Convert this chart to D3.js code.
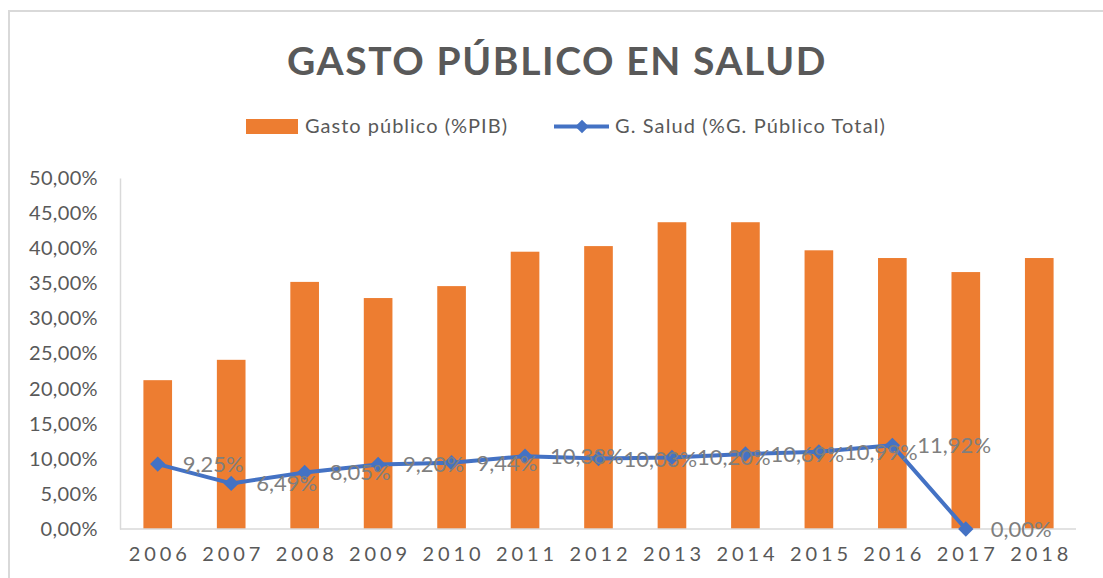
<!DOCTYPE html>
<html><head><meta charset="utf-8">
<script src="https://cdn.jsdelivr.net/npm/d3@7"></script>
<style>body{margin:0;background:#fff}svg{display:block;font-family:Lato,"Open Sans",sans-serif}</style>
</head><body><svg id="c" width="1103" height="578"></svg>
<script>
const years = ["2006","2007","2008","2009","2010","2011","2012","2013","2014","2015","2016","2017","2018"];
const gastoPublico = [0.212,0.241,0.352,0.329,0.346,0.395,0.403,0.437,0.437,0.397,0.386,0.366,0.386];
const gSaludYears = ["2006","2007","2008","2009","2010","2011","2012","2013","2014","2015","2016","2017"];
const gSalud = [0.0925,0.0649,0.0805,0.0920,0.0944,0.1038,0.1003,0.1020,0.1069,0.1099,0.1192,0.0000];
const yTicks = [0,0.05,0.10,0.15,0.20,0.25,0.30,0.35,0.40,0.45,0.50];
const title = "GASTO PÚBLICO EN SALUD";
const legendLabels = ["Gasto público (%PIB)","G. Salud (%G. Público Total)"];

const loc = d3.formatLocale({decimal:",",thousands:".",grouping:[3],currency:["","€"]});
const fmt = loc.format(".2%");
const svg = d3.select("#c");
const fitWidth = (t, w) => { t.each(function(){ const n=this.getNumberOfChars(); const l=this.getComputedTextLength(); if(n>1) d3.select(this).attr("letter-spacing",(w-l)/(n)); }); };

svg.append("rect").attr("width",1103).attr("height",578).attr("fill","#fff");
svg.append("rect").attr("x",9).attr("y",11).attr("width",1200).attr("height",700).attr("fill","none").attr("stroke","#d9d9d9").attr("stroke-width",2);

const x = d3.scaleBand().domain(years).range([121,1076]).paddingInner(0.61).paddingOuter(0.305);
const y = d3.scaleLinear().domain([0,0.5]).range([529,178]);

// title
const tt = svg.append("text").attr("x",557).attr("y",75).attr("text-anchor","middle").attr("font-weight","bold").attr("font-size",39).attr("fill","#595959").text(title);
fitWidth(tt,540);

// bars
svg.append("g").selectAll("rect").data(years).join("rect")
  .attr("x",d=>x(d)).attr("width",x.bandwidth())
  .attr("y",(d,i)=>y(gastoPublico[i])).attr("height",(d,i)=>y(0)-y(gastoPublico[i]))
  .attr("fill","#ed7d31");

// y axis
const ya = svg.append("g").attr("transform","translate(120,0)")
  .call(d3.axisLeft(y).tickValues(yTicks).tickFormat(fmt).tickSize(0).tickPadding(22));
ya.select(".domain").attr("stroke","#d9d9d9").attr("stroke-width",1.5);
ya.selectAll("text").attr("font-size",20).attr("fill","#595959").attr("font-family","Lato");
ya.selectAll("text").each(function(){ fitWidth(d3.select(this), this.getNumberOfChars()*11.5); });

// x axis
const xa = svg.append("g").attr("transform","translate(0,529)")
  .call(d3.axisBottom(x).tickSize(0).tickPadding(18));
xa.select(".domain").attr("stroke","#d9d9d9").attr("stroke-width",1.5).attr("d","M120,0H1076");
xa.selectAll("text").attr("font-size",20).attr("fill","#595959").attr("font-family","Lato");
xa.selectAll("text").each(function(){ fitWidth(d3.select(this),62); d3.select(this).attr("dx",2); });

// line
const cx = d => x(d)+x.bandwidth()/2;
const line = d3.line().x((d,i)=>cx(gSaludYears[i])).y(d=>y(d));
svg.append("path").datum(gSalud).attr("d",line).attr("fill","none").attr("stroke","#4472c4").attr("stroke-width",4).attr("stroke-linejoin","round");
const sym = d3.symbol(d3.symbolSquare,118);
svg.append("g").selectAll("path").data(gSalud).join("path")
  .attr("d",sym).attr("fill","#4472c4")
  .attr("transform",(d,i)=>`translate(${cx(gSaludYears[i])},${y(d)}) rotate(45)`);

// data labels
svg.append("g").selectAll("text").data(gSalud).join("text")
  .attr("x",(d,i)=>cx(gSaludYears[i])+25).attr("y",d=>y(d)+8)
  .attr("font-size",22).attr("fill","#7f7f7f").text(d=>fmt(d));

// legend
const lg = svg.append("g");
lg.append("rect").attr("x",246).attr("y",119).attr("width",52).attr("height",15).attr("fill","#ed7d31");
const l1 = lg.append("text").attr("x",305).attr("y",133).attr("font-size",20).attr("fill","#595959").text(legendLabels[0]);
fitWidth(l1,203);
lg.append("line").attr("x1",554).attr("x2",609).attr("y1",126.5).attr("y2",126.5).attr("stroke","#4472c4").attr("stroke-width",4);
lg.append("path").attr("d",d3.symbol(d3.symbolSquare,90)).attr("fill","#4472c4").attr("transform","translate(582,126.5) rotate(45)");
const l2 = lg.append("text").attr("x",615).attr("y",133).attr("font-size",20).attr("fill","#595959").text(legendLabels[1]);
fitWidth(l2,271);
</script></body></html>
